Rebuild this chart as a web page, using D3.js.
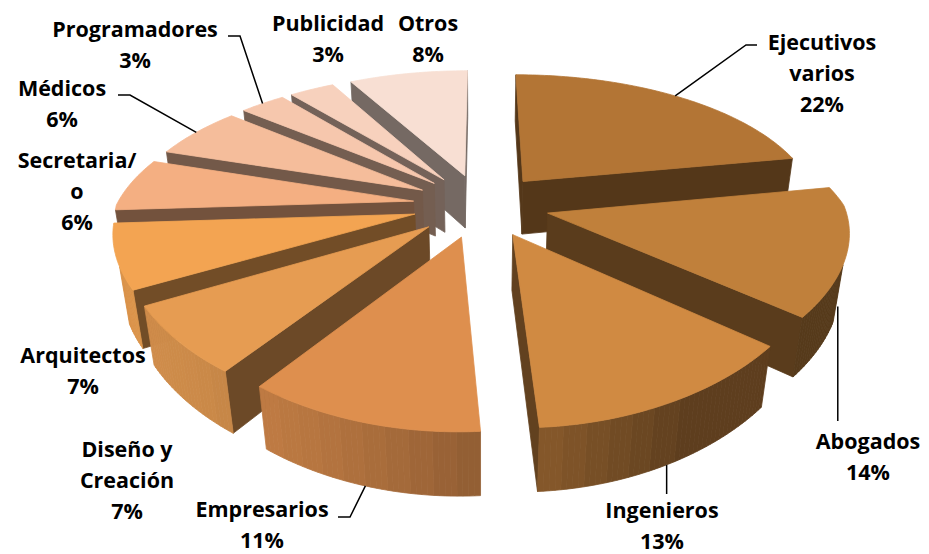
<!DOCTYPE html>
<meta charset="utf-8">
<head>
  <script src="https://d3js.org/d3.v7.min.js"></script>
  <style>
    body { margin: 0; background: #fff; }
    .lbl { font-family: "Open Sans", Lato, sans-serif; font-weight: bold; font-size: 21.5px; fill: #000; }
  </style>
</head>
<body>
<div id="display"></div>
<script>
// data
var categories = ["Ejecutivos varios", "Abogados", "Ingenieros", "Empresarios", "Diseño y Creación",
                  "Arquitectos", "Secretaria/o", "Médicos", "Programadores", "Publicidad", "Otros"];
var values = [22, 14, 13, 11, 7, 7, 6, 6, 3, 3, 8];
var labelLines = [["Ejecutivos", "varios"], ["Abogados"], ["Ingenieros"], ["Empresarios"], ["Diseño y", "Creación"],
                  ["Arquitectos"], ["Secretaria/", "o"], ["Médicos"], ["Programadores"], ["Publicidad"], ["Otros"]];
var colors = ["#b37535", "#c0803b", "#d08a42", "#de8f4e", "#e69c52", "#f3a452",
              "#f4af82", "#f5bd9b", "#f6c7ad", "#f7d1bd", "#f8dfd3"];

// label placement: centre x, first line centre y, leader start points (null = no leader),
// leader goes to the top or bottom rim; "vertical" drops the leader straight down from the rim
var labelPos = [
  {x: 822, y: 42,  lead: [[757, 45], [746, 45]], rim: "top"},
  {x: 868, y: 441, lead: [], rim: "bottom", vertical: 421},
  {x: 662, y: 510, lead: [], rim: "bottom", vertical: 494},
  {x: 262, y: 509, lead: [[338, 517], [350, 517]], rim: "bottom"},
  {x: 127, y: 449, lead: null},
  {x: 83,  y: 355, lead: null},
  {x: 77,  y: 160, lead: null},
  {x: 62,  y: 88,  lead: [[118, 95], [130, 95]], rim: "top"},
  {x: 135, y: 29,  lead: [[228, 36], [240, 36]], rim: "top"},
  {x: 328, y: 23,  lead: null},
  {x: 428, y: 23,  lead: null}
];

var width = 929, height = 554;
var thick = 0.21, explode = 0.23,
    elev = 30.2 * Math.PI / 180, D = 4.22, f = 1222, cx = 481, cy = 259,
    frontSqueeze = 0.1;
var se = Math.sin(elev), ce = Math.cos(elev);
var cam = [0, -D * ce, D * se];

function project(p) {
  var depth = D + p[1] * ce - p[2] * se;
  var Y = p[1] * se + p[2] * ce;
  var sq = 1 - frontSqueeze * Math.max(0, -p[1]);
  return [cx + sq * f * p[0] / depth, cy - f * Y / depth, depth];
}

function shade(c, k) {
  var r = d3.rgb(c);
  return d3.rgb(r.r * k, r.g * k, r.b * k).formatHex();
}

var svg = d3.select("#display").append("svg")
  .attr("width", width).attr("height", height);

var arcs = d3.pie().sort(null).value(function(d) { return d; })(values);

var slices = arcs.map(function(a, i) {
  var mid = (a.startAngle + a.endAngle) / 2;
  var ox = explode * Math.sin(mid), oz = explode * Math.cos(mid);
  var rim = function(ang, h) { return [ox + Math.sin(ang), oz + Math.cos(ang), h]; };
  var ctr = function(h) { return [ox, oz, h]; };
  var n = Math.max(3, Math.ceil((a.endAngle - a.startAngle) / (1 * Math.PI / 180)));
  var angs = d3.range(n + 1).map(function(j) { return a.startAngle + (a.endAngle - a.startAngle) * j / n; });
  var faces = [];

  function visible(normAng, p) {
    var v = [cam[0] - p[0], cam[1] - p[1], cam[2] - p[2]];
    return Math.sin(normAng) * v[0] + Math.cos(normAng) * v[1] > 0;
  }
  // radial walls
  [[a.startAngle, a.startAngle - Math.PI / 2], [a.endAngle, a.endAngle + Math.PI / 2]].forEach(function(w) {
    var pts = [ctr(thick), rim(w[0], thick), rim(w[0], 0), ctr(0)];
    var m = [(pts[0][0] + pts[1][0]) / 2, (pts[0][1] + pts[1][1]) / 2, thick / 2];
    if (visible(w[1], m)) faces.push({pts: pts, fill: shade(colors[i], 0.47)});
  });
  // outer wall: strips of ~1 deg, shade stepped every 4 deg
  for (var j = 0; j < n; j++) {
    var am = (angs[j] + angs[j + 1]) / 2;
    var pts = [rim(angs[j], thick), rim(angs[j + 1], thick), rim(angs[j + 1], 0), rim(angs[j], 0)];
    if (visible(am, rim(am, thick / 2))) {
      var step = 4 * Math.PI / 180;
      var as = Math.floor(am / step) * step + step / 2;
      var k = 0.45 + 0.45 * Math.max(0, Math.cos(as - 4 * Math.PI / 3));
      faces.push({pts: pts, fill: shade(colors[i], k)});
    }
  }
  // top
  faces.push({pts: [ctr(thick)].concat(angs.map(function(g) { return rim(g, thick); })), fill: colors[i]});

  var depth = project([ox + 0.5 * Math.sin(mid), oz + 0.5 * Math.cos(mid), thick / 2])[2];
  return {i: i, faces: faces, depth: depth, rim: rim, mid: mid};
});

var line = d3.line();

svg.append("g").selectAll("g")
  .data(slices.slice().sort(function(a, b) { return b.depth - a.depth; }))
  .enter().append("g")
  .selectAll("path")
  .data(function(s) { return s.faces; })
  .enter().append("path")
    .attr("d", function(fc) { return line(fc.pts.map(function(p) { return project(p).slice(0, 2); })) + "Z"; })
    .attr("fill", function(fc) { return fc.fill; })
    .attr("stroke", function(fc) { return fc.fill; })
    .attr("stroke-width", 0.8)
    .attr("stroke-linejoin", "round");

// leader lines
svg.append("g").selectAll("path")
  .data(slices.filter(function(s) { return labelPos[s.i].lead; }))
  .enter().append("path")
    .attr("fill", "none")
    .attr("stroke", "#000")
    .attr("stroke-width", 1.5)
    .attr("d", function(s) {
      var L = labelPos[s.i];
      var end = project(s.rim(s.mid, L.rim === "top" ? thick : 0));
      var pts = L.vertical ? [[end[0], L.vertical]] : L.lead;
      return line(pts.concat([[end[0], end[1]]]));
    });

// labels
var lbl = svg.append("g").selectAll("text")
  .data(slices)
  .enter().append("text")
    .attr("class", "lbl")
    .attr("text-anchor", "middle");

lbl.selectAll("tspan")
  .data(function(s) { return labelLines[s.i].concat([values[s.i] + "%"]); })
  .enter().append("tspan")
    .attr("x", function() { return labelPos[d3.select(this.parentNode).datum().i].x; })
    .attr("y", function(d, k) { return labelPos[d3.select(this.parentNode).datum().i].y + k * 31; })
    .attr("dy", "0.35em")
    .text(function(d) { return d; });
</script>
</body>
